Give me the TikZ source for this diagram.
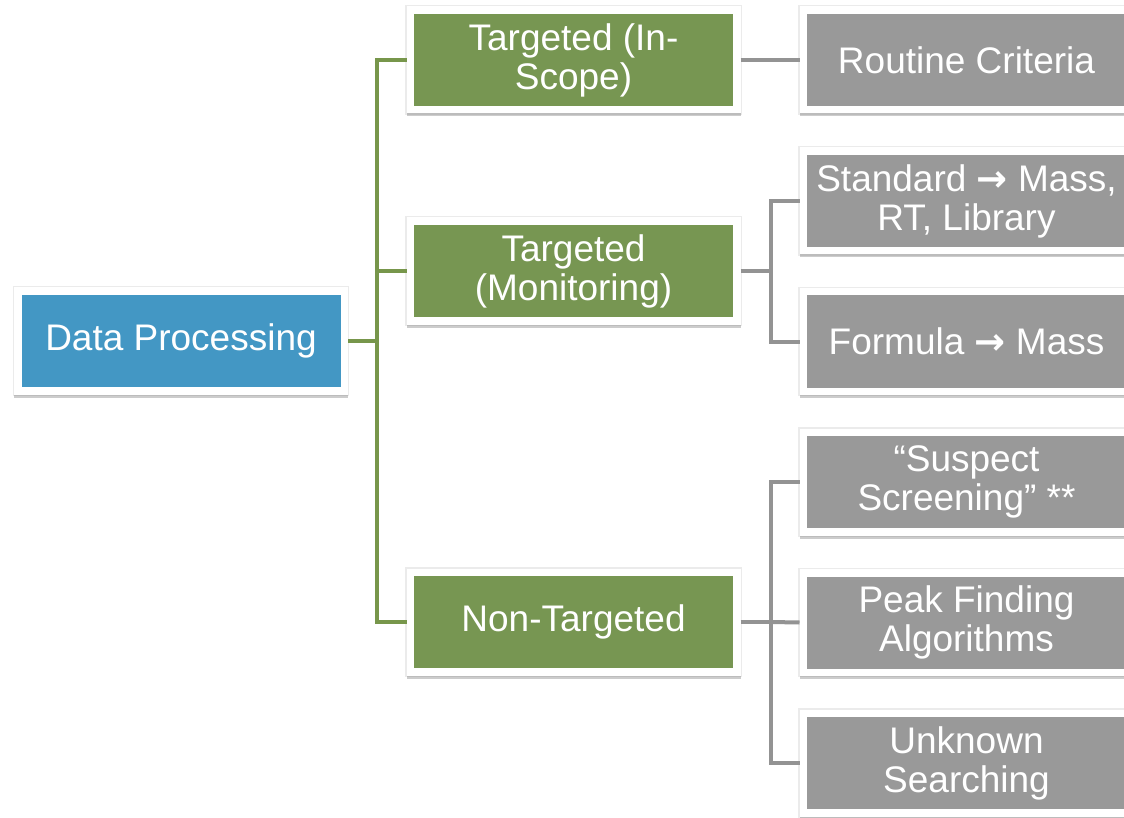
\documentclass[tikz,border=0pt]{standalone}
\usepackage{fontspec}
\setmainfont{Liberation Sans}
\newfontfamily\arrfont{DejaVu Sans}
\newcommand{\rarr}{{\arrfont\bfseries →}}
\usetikzlibrary{shadows}
\definecolor{dpblue}{HTML}{4397C4}
\definecolor{tgreen}{HTML}{779652}
\definecolor{bgrey}{HTML}{999999}
\definecolor{lgreen}{HTML}{77964B}
\definecolor{lgrey}{HTML}{939393}
\tikzset{
  box/.style={draw=white, line width=7.5pt, minimum width=326.5pt, minimum height=99.5pt,
    inner sep=0pt, text=white, align=center, font=\fontsize{37}{39}\selectfont,
    general shadow={shadow scale=1, shadow xshift=0pt, shadow yshift=0pt, opacity=0.08, fill=black, draw=black, line width=10pt},
    drop shadow={shadow xshift=0pt, shadow yshift=-3pt, opacity=0.2, fill=black, draw=black, line width=7.5pt}},
  gl/.style={draw=lgreen, line width=4pt},
  gr/.style={draw=lgrey, line width=4pt}
}
\begin{document}
\begin{tikzpicture}[x=1pt,y=-1pt]
\useasboundingbox (0,0) rectangle (1124,818);
\fill[white] (0,0) rectangle (1124,818);
\node[box, fill=dpblue] (dp) at (181,341) {Data Processing};
\node[box, fill=tgreen] (ins) at (573.5,60) {Targeted (In-\\Scope)};
\node[box, fill=tgreen] (mon) at (573.5,271) {Targeted\\(Monitoring)};
\node[box, fill=tgreen] (non) at (573.5,622) {Non-Targeted};
\node[box, fill=bgrey] (rc) at (966.5,60) {Routine Criteria};
\node[box, fill=bgrey] (std) at (966.5,201) {Standard \rarr{} Mass,\\RT, Library};
\node[box, fill=bgrey] (frm) at (966.5,341.5) {Formula \rarr{} Mass};
\node[box, fill=bgrey] (sus) at (966.5,482) {“Suspect\\Screening” **};
\node[box, fill=bgrey] (pk) at (966.5,622.5) {Peak Finding\\Algorithms};
\node[box, fill=bgrey] (unk) at (966.5,763) {Unknown\\Searching};
\draw[gl] (dp.east) -- ++(29,0) coordinate (j1);
\draw[gl] (ins.west) -| (j1) |- (non.west);
\draw[gl] (j1 |- mon.west) -- (mon.west);
\draw[gr] (ins.east) -- (rc.west);
\draw[gr] (mon.east) -- ++(30,0) coordinate (j2);
\draw[gr] (std.west) -| (j2) |- (frm.west);
\draw[gr] (non.east) -- ++(30,0) coordinate (j3);
\draw[gr] (sus.west) -| (j3) |- (unk.west);
\draw[gr] (j3) -- (pk.west);
\end{tikzpicture}
\end{document}
